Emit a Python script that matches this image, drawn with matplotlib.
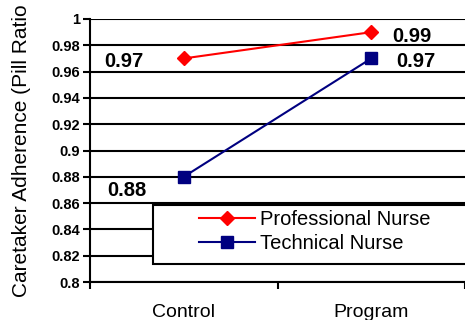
import matplotlib
matplotlib.use("Agg")
import matplotlib.pyplot as plt
from matplotlib.patches import Rectangle
import numpy as np

plt.rcParams["font.family"] = ["Liberation Sans", "DejaVu Sans"]

groups = ["Control", "Program"]
professional = [0.97, 0.99]
technical = [0.88, 0.97]
series_names = ["Professional Nurse", "Technical Nurse"]
y_ticks = [0.8, 0.82, 0.84, 0.86, 0.88, 0.9, 0.92, 0.94, 0.96, 0.98, 1.0]
y_tick_labels = ["0.8", "0.82", "0.84", "0.86", "0.88", "0.9", "0.92", "0.94", "0.96", "0.98", "1"]

fig = plt.figure(figsize=(4.65, 3.2), dpi=100)
ax = fig.add_axes([90 / 465, 1 - 282 / 320, 375 / 465, 263 / 320])

x = np.arange(1, len(groups) + 1)
ax.plot(x, professional, color="#FF0000", lw=1.5, marker="D", ms=7.5,
        label=series_names[0], zorder=3)
ax.plot(x, technical, color="#000080", lw=1.5, marker="s", ms=9.3,
        label=series_names[1], zorder=3)

# value labels
label_offsets = {
    (0, 0): (-43, -2), (0, 1): (29, -3),
    (1, 0): (-41, -10), (1, 1): (32, -2),
}
for si, vals in enumerate([professional, technical]):
    for gi, v in enumerate(vals):
        ax.annotate(f"{v:.2f}", (x[gi], v), xytext=label_offsets[(si, gi)],
                    textcoords="offset points", ha="center", va="center",
                    fontsize=14.5, fontweight="bold", zorder=4)

ax.set_ylim(0.8, 1.0)
ax.set_xlim(0.5, 2.5)
ax.set_yticks(y_ticks)
ax.set_yticklabels(y_tick_labels, fontsize=10.5, fontweight="bold")
for yv in y_ticks:
    ax.axhline(yv, color="black", lw=1.5, zorder=1)

ax.set_xticks([0.5, 1.5, 2.5])
ax.set_xticklabels([])
ax.set_xticks(x, minor=True)
ax.set_xticklabels(groups, minor=True, fontsize=14)
ax.tick_params(axis="x", which="minor", length=0, pad=16)
ax.tick_params(axis="x", which="major", direction="out", length=5, width=1.5)
ax.tick_params(axis="y", direction="out", length=5, width=1.5, pad=2)

for side in ["top", "right"]:
    ax.spines[side].set_visible(False)
for side in ["left", "bottom"]:
    ax.spines[side].set_linewidth(1.5)

fig.text(22 / 465, 1 - 151 / 320, "Caretaker Adherence (Pill Ratio",
         rotation=90, ha="center", va="center", fontsize=15)

# legend box (runs off the right edge like the original)
box = Rectangle((0.168, 0.068), 0.85, 0.224, transform=ax.transAxes,
                facecolor="white", edgecolor="black", lw=1.5,
                clip_on=False, zorder=5)
ax.add_patch(box)
leg = ax.legend(loc="upper left", bbox_to_anchor=(0.29, 0.272),
                fontsize=14.5, frameon=False, borderaxespad=0,
                borderpad=0, handlelength=2.8, labelspacing=0.25,
                handletextpad=0.25)
leg.set_zorder(6)

fig.savefig("out.png", dpi=100)
